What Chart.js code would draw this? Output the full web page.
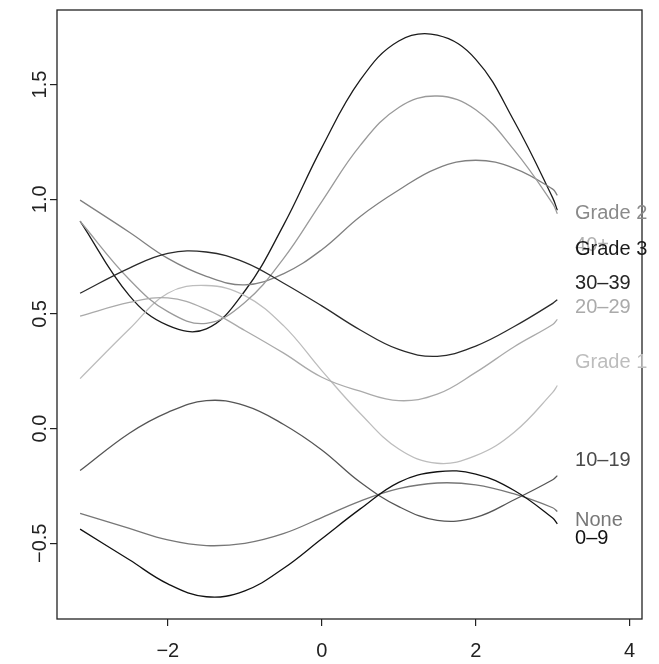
<!DOCTYPE html>
<html>
<head>
<meta charset="utf-8">
<script src="https://cdn.jsdelivr.net/npm/chart.js@4.4.1/dist/chart.umd.min.js"></script>
<style>
  html, body { margin: 0; padding: 0; background: #fff; }
  .chart-container { width: 659px; height: 664px; }
</style>
</head>
<body>
<div class="chart-container">
  <canvas id="chart" width="659" height="664"></canvas>
</div>
<script>
// x positions the curves were read at
const xs = [-3.14, -2.5, -2, -1.5, -1, -0.5, 0, 0.5, 1, 1.5, 2, 2.5, 3, 3.06];

const categories = ['0\u20139', '10\u201319', '20\u201329', '30\u201339', '40+', 'None', 'Grade 1', 'Grade 2', 'Grade 3'];

const series0to9   = [-0.438, -0.572, -0.677, -0.733, -0.707, -0.61, -0.48, -0.35, -0.234, -0.188, -0.198, -0.27, -0.39, -0.415];
const series10to19 = [-0.183, -0.02, 0.071, 0.122, 0.10, 0.019, -0.093, -0.234, -0.34, -0.40, -0.387, -0.31, -0.223, -0.205];
const series20to29 = [0.49, 0.55, 0.57, 0.52, 0.428, 0.33, 0.224, 0.163, 0.122, 0.15, 0.245, 0.357, 0.454, 0.476];
const series30to39 = [0.59, 0.70, 0.764, 0.77, 0.725, 0.635, 0.535, 0.43, 0.345, 0.315, 0.36, 0.445, 0.546, 0.562];
const series40plus = [0.904, 0.65, 0.51, 0.459, 0.55, 0.74, 0.99, 1.235, 1.40, 1.45, 1.39, 1.214, 0.981, 0.937];
const seriesNone   = [-0.37, -0.435, -0.485, -0.51, -0.5, -0.458, -0.388, -0.316, -0.262, -0.237, -0.245, -0.285, -0.345, -0.361];
const seriesGrade1 = [0.218, 0.434, 0.59, 0.624, 0.58, 0.45, 0.253, 0.066, -0.089, -0.151, -0.118, -0.016, 0.158, 0.188];
const seriesGrade2 = [0.996, 0.856, 0.742, 0.664, 0.627, 0.675, 0.78, 0.925, 1.04, 1.135, 1.17, 1.135, 1.044, 1.017];
const seriesGrade3 = [0.905, 0.58, 0.45, 0.435, 0.60, 0.885, 1.225, 1.52, 1.69, 1.715, 1.61, 1.34, 1.006, 0.952];

// where the names are written on the right (data units)
const labelX = 3.29;
const labelY = [-0.48, -0.14, 0.528, 0.634, 0.80, -0.402, 0.288, 0.939, 0.782];

const xTicks = [-2, 0, 2, 4];
const yTicks = [-0.5, 0.0, 0.5, 1.0, 1.5];
const yTickLabels = ['\u22120.5', '0.0', '0.5', '1.0', '1.5'];
const xTickLabels = ['\u22122', '0', '2', '4'];

const allSeries = [series0to9, series10to19, series20to29, series30to39, series40plus,
                   seriesNone, seriesGrade1, seriesGrade2, seriesGrade3];
const colors = ['#111111', '#555555', '#aaaaaa', '#2a2a2a', '#9a9a9a', '#777777', '#bdbdbd', '#808080', '#1a1a1a'];
const labelColors = ['#111111', '#4a4a4a', '#aaaaaa', '#262626', '#b0b0b0', '#777777', '#bdbdbd', '#8a8a8a', '#1a1a1a'];

const FONT = '"Liberation Sans", Arial, Helvetica, sans-serif';

const datasets = allSeries.map((vals, i) => ({
  label: categories[i],
  data: vals.map((v, j) => ({ x: xs[j], y: v })),
  borderColor: colors[i],
  borderWidth: 1.3,
  pointRadius: 0,
  fill: false,
  tension: 0.4
}));

// box, rotated y labels and the names at the right
const extras = {
  id: 'extras',
  afterDraw(chart) {
    const { ctx, chartArea, scales } = chart;
    ctx.save();
    ctx.strokeStyle = '#222';
    ctx.lineWidth = 1.3;
    ctx.strokeRect(chartArea.left, chartArea.top, chartArea.right - chartArea.left, chartArea.bottom - chartArea.top);

    ctx.font = '20px ' + FONT;
    ctx.fillStyle = '#222';
    ctx.textAlign = 'center';
    ctx.textBaseline = 'middle';
    yTicks.forEach((t, i) => {
      const py = scales.y.getPixelForValue(t);
      ctx.save();
      ctx.translate(40, py);
      ctx.rotate(-Math.PI / 2);
      ctx.fillText(yTickLabels[i], 0, 0);
      ctx.restore();
    });

    ctx.textAlign = 'left';
    const px = scales.x.getPixelForValue(labelX);
    categories.forEach((c, i) => {
      ctx.fillStyle = labelColors[i];
      ctx.fillText(c, px, scales.y.getPixelForValue(labelY[i]));
    });
    ctx.restore();
  }
};

const canvas = document.getElementById('chart');
new Chart(canvas, {
  type: 'line',
  data: { datasets: datasets },
  options: {
    responsive: false,
    animation: false,
    layout: { padding: { top: 10, right: 17, left: 0, bottom: 0 } },
    plugins: { legend: { display: false }, tooltip: { enabled: false }, title: { display: false } },
    scales: {
      x: {
        type: 'linear',
        min: -3.44,
        max: 4.16,
        afterBuildTicks: (scale) => { scale.ticks = xTicks.map(v => ({ value: v })); },
        afterFit: (scale) => { scale.height = 45; },
        border: { display: false },
        grid: { drawOnChartArea: false, drawTicks: true, tickLength: 7, color: '#222', lineWidth: 1.2 },
        ticks: {
          color: '#222',
          font: { size: 20, family: FONT },
          padding: 13,
          maxRotation: 0,
          callback: (v) => xTickLabels[xTicks.indexOf(v)]
        }
      },
      y: {
        type: 'linear',
        min: -0.83,
        max: 1.825,
        afterBuildTicks: (scale) => { scale.ticks = yTicks.map(v => ({ value: v })); },
        afterFit: (scale) => { scale.width = 57; },
        border: { display: false },
        grid: { drawOnChartArea: false, drawTicks: true, tickLength: 7, color: '#222', lineWidth: 1.2 },
        ticks: { display: false }
      }
    }
  },
  plugins: [extras]
});
</script>
</body>
</html>
